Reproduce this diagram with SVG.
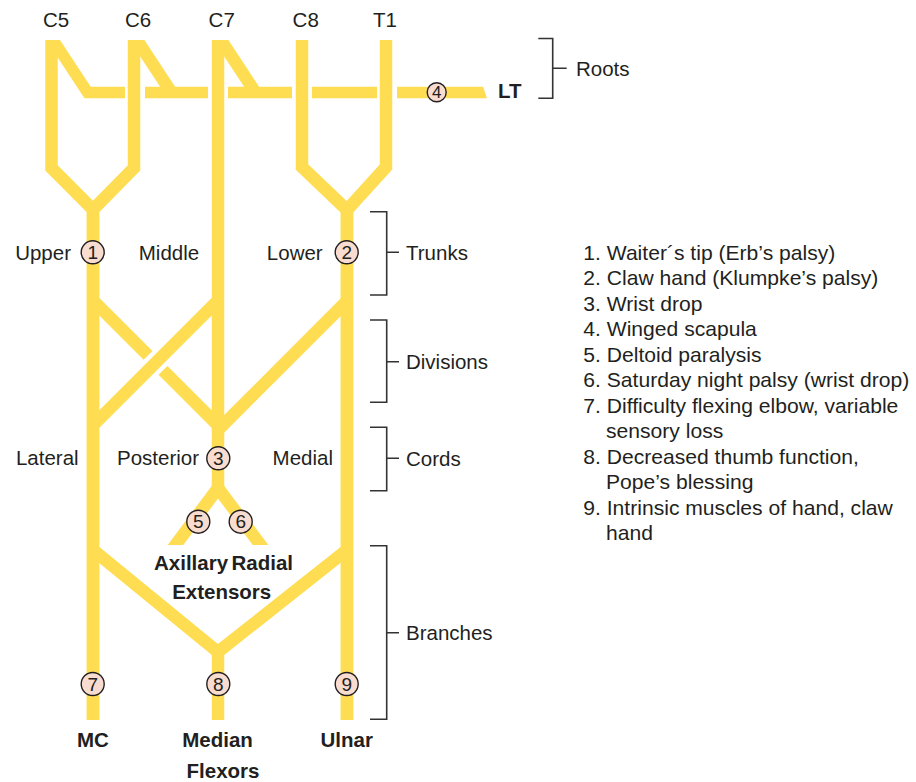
<svg xmlns="http://www.w3.org/2000/svg" width="916" height="782" viewBox="0 0 916 782">
<style>
.n{fill:none;stroke:#FEDD52;stroke-width:12.5;stroke-linejoin:miter;stroke-miterlimit:10;stroke-linecap:butt}
.b{fill:none;stroke:#333;stroke-width:1.6}
text{font-family:"Liberation Sans",Arial,Helvetica,sans-serif;fill:#231f20}
.t{font-size:20.5px}
.bd{font-size:20.5px;font-weight:bold}
.lg{font-size:21.1px}
.c{fill:#F7DCCF;stroke:#231f20;stroke-width:1.4}
.cn{font-size:19px;text-anchor:middle}
.m{text-anchor:middle}
.e{text-anchor:end}
</style>
<defs>
<clipPath id="top"><rect x="0" y="40" width="916" height="742"/></clipPath>
<clipPath id="ar"><rect x="0" y="0" width="916" height="545"/></clipPath>
</defs>

<g id="nerves" clip-path="url(#top)">
  <path class="n" d="M51.5,30 V168 L93,209.5 V720"/>
  <path class="n" d="M134,30 V168 L93,209.5 V720"/>
  <path class="n" d="M218,30 V497"/>
  <path class="n" d="M302,30 V167 L347,210 V720"/>
  <path class="n" d="M386,30 V167 L347,210 V720"/>
  <path class="n" style="stroke-width:11.5" d="M46.5,30 L87.6,92.5 H125"/>
  <path class="n" style="stroke-width:11.5" d="M145,92.5 H208"/>
  <path class="n" d="M130.3,30 L171.4,92.5"/>
  <path class="n" style="stroke-width:11.5" d="M228,92.5 H292"/>
  <path class="n" d="M214.3,30 L255.4,92.5"/>
  <path class="n" style="stroke-width:11.5" d="M312,92.5 H377"/>
  <path fill="#FEDD52" d="M397,86.8 H483 L487,98.3 H397 Z"/>
  <path class="n" d="M93,300.4 L148,355.4"/>
  <path class="n" d="M163,370.4 L218,425.4"/>
  <path class="n" d="M218,300.4 L93,425.4"/>
  <path class="n" d="M347,301 L218,430"/>
  <g clip-path="url(#ar)">
    <path class="n" d="M218,488 L169.5,553"/>
    <path class="n" d="M218,488 L266.5,553"/>
  </g>
  <path class="n" d="M93,549.8 L218,652 L347,549.8"/>
  <path class="n" d="M218,652 V720"/>
</g>

<g id="brackets">
  <path class="b" d="M538.3,38.5 H552.7 V98.3 H538.3 M552.7,68.3 H566.7"/>
  <path class="b" d="M370,211.7 H386.7 V295 H370 M386.7,252.3 H399"/>
  <path class="b" d="M370,320 H386.7 V402.3 H370 M386.7,361.7 H399"/>
  <path class="b" d="M370,427.3 H386.7 V490.7 H370 M386.7,458.3 H399"/>
  <path class="b" d="M370,545.7 H386.7 V719.3 H370 M386.7,632.7 H399"/>
</g>

<g id="root-labels">
  <text class="t m" x="56" y="26.7">C5</text>
  <text class="t m" x="138" y="26.7">C6</text>
  <text class="t m" x="221.7" y="26.7">C7</text>
  <text class="t m" x="305.7" y="26.7">C8</text>
  <text class="t m" x="385" y="26.7">T1</text>
</g>

<g id="level-labels">
  <text class="t" x="576" y="76">Roots</text>
  <text class="t" x="406" y="260">Trunks</text>
  <text class="t" x="406" y="369">Divisions</text>
  <text class="t" x="406" y="466">Cords</text>
  <text class="t" x="406" y="640">Branches</text>
</g>

<g id="trunk-labels">
  <text class="t e" x="71" y="259.5">Upper</text>
  <text class="t m" x="169" y="259.5">Middle</text>
  <text class="t e" x="322.7" y="259.5">Lower</text>
</g>

<g id="cord-labels">
  <text class="t m" x="47.3" y="465">Lateral</text>
  <text class="t e" x="199" y="465">Posterior</text>
  <text class="t m" x="302.8" y="465">Medial</text>
</g>

<g id="nerve-labels">
  <text class="bd" x="498" y="98">LT</text>
  <text class="bd" x="154" y="570">Axillary</text>
  <text class="bd" x="231.5" y="570">Radial</text>
  <text class="bd m" x="221.7" y="599.3">Extensors</text>
  <text class="bd m" x="93" y="746.7">MC</text>
  <text class="bd m" x="217.5" y="746.7">Median</text>
  <text class="bd m" x="346.7" y="746.7">Ulnar</text>
  <text class="bd m" x="223" y="778">Flexors</text>
</g>

<g id="marker-1"><circle class="c" cx="92.7" cy="252.3" r="11.5"/><text class="cn" x="92.7" y="259">1</text></g>
<g id="marker-2"><circle class="c" cx="346.7" cy="252.3" r="11.5"/><text class="cn" x="346.7" y="259">2</text></g>
<g id="marker-3"><circle class="c" cx="218.3" cy="458.3" r="11.5"/><text class="cn" x="218.3" y="465">3</text></g>
<g id="marker-4"><circle class="c" cx="436.7" cy="92.3" r="9.5"/><text class="cn" style="font-size:17px" x="436.7" y="98.3">4</text></g>
<g id="marker-5"><circle class="c" cx="198.3" cy="521.7" r="11.5"/><text class="cn" x="198.3" y="528.4">5</text></g>
<g id="marker-6"><circle class="c" cx="240.7" cy="521.7" r="11.5"/><text class="cn" x="240.7" y="528.4">6</text></g>
<g id="marker-7"><circle class="c" cx="92.7" cy="684" r="11.5"/><text class="cn" x="92.7" y="690.7">7</text></g>
<g id="marker-8"><circle class="c" cx="218.3" cy="684" r="11.5"/><text class="cn" x="218.3" y="690.7">8</text></g>
<g id="marker-9"><circle class="c" cx="346.7" cy="684" r="11.5"/><text class="cn" x="346.7" y="690.7">9</text></g>

<g id="legend">
  <text class="lg" x="583.3" y="259.5">1. Waiter´s tip (Erb’s palsy)</text>
  <text class="lg" x="583.3" y="285">2. Claw hand (Klumpke’s palsy)</text>
  <text class="lg" x="583.3" y="310.5">3. Wrist drop</text>
  <text class="lg" x="583.3" y="336">4. Winged scapula</text>
  <text class="lg" x="583.3" y="361.5">5. Deltoid paralysis</text>
  <text class="lg" x="583.3" y="387">6. Saturday night palsy (wrist drop)</text>
  <text class="lg" x="583.3" y="412.5">7. Difficulty flexing elbow, variable</text>
  <text class="lg" x="606" y="438">sensory loss</text>
  <text class="lg" x="583.3" y="463.5">8. Decreased thumb function,</text>
  <text class="lg" x="606" y="489">Pope’s blessing</text>
  <text class="lg" x="583.3" y="514.5">9. Intrinsic muscles of hand, claw</text>
  <text class="lg" x="606" y="540">hand</text>
</g>
</svg>
